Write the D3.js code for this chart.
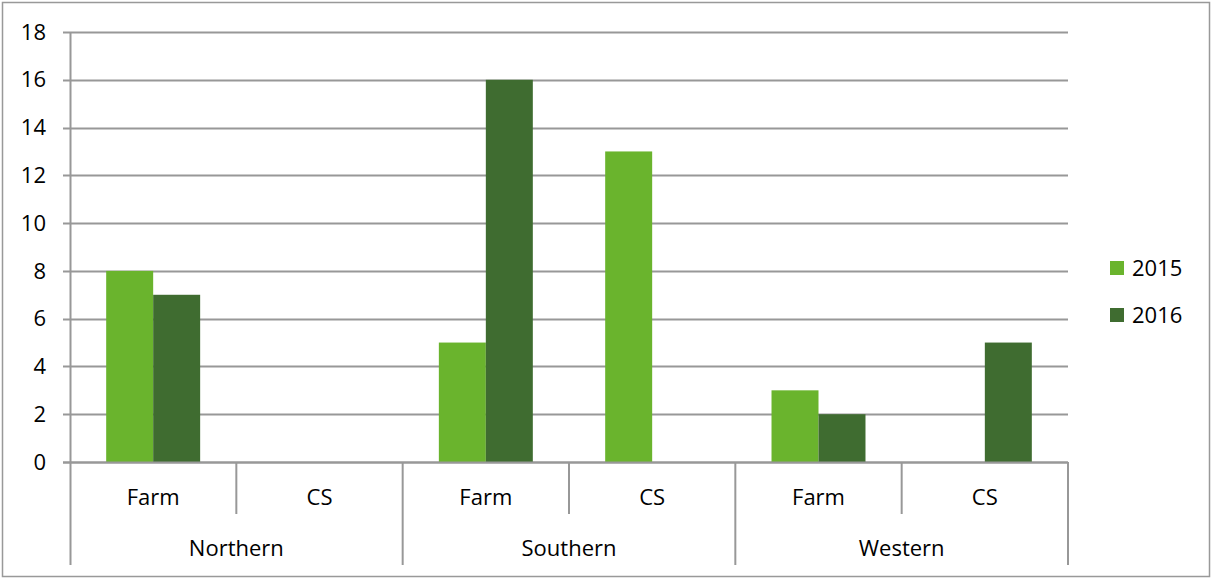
<!DOCTYPE html>
<html>
<head>
<meta charset="utf-8">
<script src="https://cdn.jsdelivr.net/npm/d3@7"></script>
<style>
  body { margin: 0; background: #fff; }
  text { font-family: "Open Sans", Lato, sans-serif; fill: #000; }
</style>
</head>
<body>
<div id="chart"></div>
<script>
// chart values
var groups = ["Northern", "Southern", "Western"];
var subcats = ["Farm", "CS"];
var years = ["2015", "2016"];
var values2015 = [8, 0, 5, 13, 3, 0];
var values2016 = [7, 0, 16, 0, 2, 5];
var yTicks = [0, 2, 4, 6, 8, 10, 12, 14, 16, 18];
var colors = ["#6ab42d", "#3f6c30"];

var width = 1212, height = 579;
var plotLeft = 70, plotRight = 1068, plotTop = 32, plotBottom = 462;
var fontSize = 22;

var svg = d3.select("#chart").append("svg")
    .attr("width", width)
    .attr("height", height);

// outer frame
svg.append("rect")
    .attr("x", 2.5).attr("y", 2.5)
    .attr("width", width - 5).attr("height", height - 5)
    .attr("fill", "none")
    .attr("stroke", "#999")
    .attr("stroke-width", 1.5);

// build the rows: one per group/subcategory
var rows = [];
groups.forEach(function(g, gi) {
    subcats.forEach(function(s, si) {
        var i = gi * subcats.length + si;
        rows.push({ key: g + "-" + s, group: g, sub: s, v: [values2015[i], values2016[i]] });
    });
});

var x = d3.scaleBand()
    .domain(rows.map(function(d) { return d.key; }))
    .range([plotLeft, plotRight]);

var xInner = d3.scaleBand()
    .domain(years)
    .range([0, x.bandwidth()])
    .paddingInner(0)
    .paddingOuter(0.77);

var y = d3.scaleLinear()
    .domain([0, 18])
    .range([plotBottom, plotTop]);

// gridlines
svg.append("g").selectAll("line")
    .data(yTicks)
    .enter().append("line")
    .attr("x1", plotLeft - 7).attr("x2", plotRight)
    .attr("y1", function(d) { return Math.round(y(d)) + 0.5; })
    .attr("y2", function(d) { return Math.round(y(d)) + 0.5; })
    .attr("stroke", "#989898")
    .attr("stroke-width", 2);

// y labels
svg.append("g").selectAll("text")
    .data(yTicks)
    .enter().append("text")
    .attr("x", 46)
    .attr("y", function(d) { return y(d); })
    .attr("dy", "0.35em")
    .attr("text-anchor", "end")
    .attr("font-size", fontSize)
    .text(function(d) { return d; });

// bars
var rowG = svg.append("g").selectAll("g")
    .data(rows)
    .enter().append("g")
    .attr("transform", function(d) { return "translate(" + x(d.key) + ",0)"; });

rowG.selectAll("rect")
    .data(function(d) { return d.v.map(function(v, i) { return { year: years[i], v: v, i: i }; }); })
    .enter().append("rect")
    .attr("x", function(d) { return xInner(d.year); })
    .attr("width", xInner.bandwidth())
    .attr("y", function(d) { return y(d.v); })
    .attr("height", function(d) { return y(0) - y(d.v); })
    .attr("fill", function(d) { return colors[d.i]; });

// redraw the zero line over the bars
svg.append("line")
    .attr("x1", plotLeft - 7).attr("x2", plotRight)
    .attr("y1", Math.round(y(0)) + 0.5).attr("y2", Math.round(y(0)) + 0.5)
    .attr("stroke", "#989898").attr("stroke-width", 2);

// y axis line
svg.append("line")
    .attr("x1", plotLeft + 0.5).attr("x2", plotLeft + 0.5)
    .attr("y1", plotTop).attr("y2", 565)
    .attr("stroke", "#989898").attr("stroke-width", 2);

// category separators
var seps = rows.map(function(d, i) { return { x: x(d.key) + x.bandwidth(), end: (i % 2 === 1) ? 565 : 514 }; });
svg.append("g").selectAll("line")
    .data(seps)
    .enter().append("line")
    .attr("x1", function(d) { return d.x; })
    .attr("x2", function(d) { return d.x; })
    .attr("y1", plotBottom).attr("y2", function(d) { return d.end; })
    .attr("stroke", "#989898").attr("stroke-width", 2);

// sub category labels
svg.append("g").selectAll("text")
    .data(rows)
    .enter().append("text")
    .attr("x", function(d) { return x(d.key) + x.bandwidth() / 2; })
    .attr("y", 497)
    .attr("dy", "0.35em")
    .attr("text-anchor", "middle")
    .attr("font-size", fontSize)
    .text(function(d) { return d.sub; });

// group labels
svg.append("g").selectAll("text")
    .data(groups)
    .enter().append("text")
    .attr("x", function(d) { return x(d + "-Farm") + x.bandwidth(); })
    .attr("y", 548)
    .attr("dy", "0.35em")
    .attr("text-anchor", "middle")
    .attr("font-size", fontSize)
    .text(function(d) { return d; });

// legend
var leg = svg.append("g").selectAll("g")
    .data(years)
    .enter().append("g")
    .attr("transform", function(d, i) { return "translate(1110," + (268 + i * 47) + ")"; });

leg.append("rect")
    .attr("x", 0).attr("y", -7)
    .attr("width", 14).attr("height", 14)
    .attr("fill", function(d, i) { return colors[i]; });

leg.append("text")
    .attr("x", 22).attr("y", 0)
    .attr("dy", "0.35em")
    .attr("font-size", fontSize)
    .text(function(d) { return d; });
</script>
</body>
</html>
